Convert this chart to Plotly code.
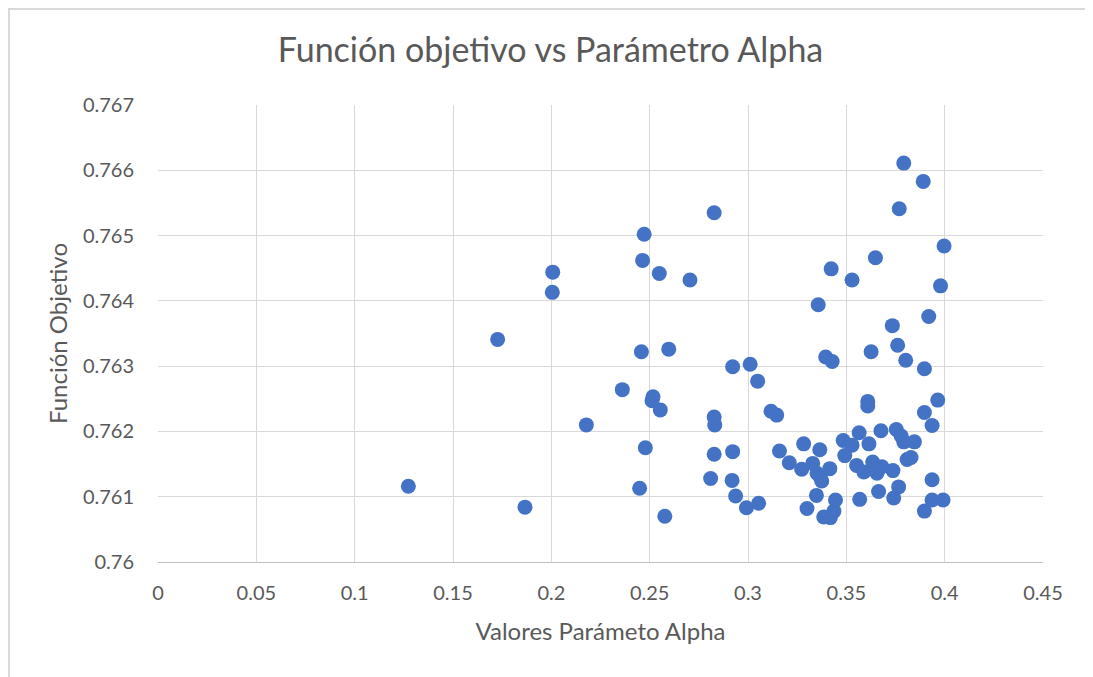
import plotly.graph_objects as go

alpha = [
    0.1273, 0.1727, 0.1866, 0.2005, 0.2007, 0.2178, 0.2361, 0.2449, 0.2458, 0.2464,
    0.2472, 0.2478, 0.2512, 0.2517, 0.2549, 0.2554, 0.2577, 0.2597, 0.2705, 0.2810,
    0.2828, 0.2828, 0.2831, 0.2828, 0.2919, 0.2922, 0.2922, 0.2937, 0.2992, 0.3011,
    0.3049, 0.3054, 0.3117, 0.3146, 0.3160, 0.3210, 0.3273, 0.3283, 0.3300, 0.3329,
    0.3348, 0.3351, 0.3357, 0.3365, 0.3368, 0.3375, 0.3385, 0.3395, 0.3416, 0.3419,
    0.3423, 0.3428, 0.3437, 0.3445, 0.3484, 0.3492, 0.3529, 0.3529, 0.3552, 0.3565,
    0.3568, 0.3589, 0.3609, 0.3609, 0.3615, 0.3626, 0.3634, 0.3648, 0.3656, 0.3664,
    0.3676, 0.3681, 0.3734, 0.3737, 0.3741, 0.3754, 0.3761, 0.3766, 0.3769, 0.3779,
    0.3792, 0.3792, 0.3802, 0.3809, 0.3829, 0.3846, 0.3891, 0.3897, 0.3897, 0.3897,
    0.3919, 0.3936, 0.3936, 0.3936, 0.3965, 0.3979, 0.3992, 0.3997,
]

objetivo = [
    0.76116, 0.76341, 0.76084, 0.76413, 0.76444, 0.76210, 0.76264, 0.76113, 0.76322, 0.76462,
    0.76502, 0.76175, 0.76247, 0.76253, 0.76442, 0.76233, 0.76070, 0.76326, 0.76432, 0.76128,
    0.76535, 0.76222, 0.76210, 0.76165, 0.76125, 0.76299, 0.76169, 0.76101, 0.76083, 0.76303,
    0.76277, 0.76090, 0.76231, 0.76225, 0.76170, 0.76152, 0.76142, 0.76181, 0.76082, 0.76151,
    0.76102, 0.76136, 0.76394, 0.76172, 0.76130, 0.76124, 0.76069, 0.76314, 0.76143, 0.76068,
    0.76449, 0.76307, 0.76078, 0.76095, 0.76186, 0.76163, 0.76179, 0.76432, 0.76148, 0.76198,
    0.76096, 0.76138, 0.76246, 0.76239, 0.76181, 0.76322, 0.76153, 0.76466, 0.76136, 0.76108,
    0.76201, 0.76146, 0.76362, 0.76140, 0.76098, 0.76203, 0.76332, 0.76115, 0.76541, 0.76193,
    0.76611, 0.76184, 0.76309, 0.76157, 0.76160, 0.76184, 0.76583, 0.76296, 0.76229, 0.76078,
    0.76376, 0.76209, 0.76126, 0.76095, 0.76248, 0.76423, 0.76095, 0.76484,
]

x_ticks = [0, 0.05, 0.1, 0.15, 0.2, 0.25, 0.3, 0.35, 0.4, 0.45]
y_ticks = [0.76, 0.761, 0.762, 0.763, 0.764, 0.765, 0.766, 0.767]

font_family = "Lato, Open Sans, sans-serif"
text_color = "#595959"
grid_color = "#D9D9D9"

# the page body adds an 8px offset, so the figure is sized to fit inside it
W, H = 1085, 669
L, R, T, B = 150, 50, 97, 115
pw = W - L - R
ph = H - T - B

fig = go.Figure(
    go.Scatter(
        x=alpha,
        y=objetivo,
        mode="markers",
        marker=dict(size=15, color="#4472C4", line=dict(width=0)),
        showlegend=False
    )
)

fig.update_layout(
    width=W,
    height=H,
    margin=dict(l=L, r=R, t=T, b=B),
    plot_bgcolor="white",
    paper_bgcolor="white",
    font=dict(family=font_family, color=text_color, size=20),
    title=dict(
        text="Función objetivo vs Parámetro Alpha",
        x=0.5,
        xanchor="center",
        xref="container",
        y=1 - 42 / H,
        yanchor="middle",
        font=dict(size=34, color=text_color)
    )
)

fig.update_xaxes(
    range=[0, 0.45],
    tickvals=x_ticks,
    ticktext=[str(v) for v in x_ticks],
    showgrid=True,
    gridcolor=grid_color,
    gridwidth=1,
    zeroline=False,
    showline=True,
    linecolor="#BFBFBF",
    linewidth=1,
    ticks="",
    ticklabelstandoff=13,
    title=dict(text="Valores Parámeto Alpha", font=dict(size=24), standoff=20)
)

fig.update_yaxes(
    range=[0.76, 0.767],
    tickvals=y_ticks,
    ticktext=[str(v) for v in y_ticks],
    showgrid=True,
    gridcolor=grid_color,
    gridwidth=1,
    zeroline=False,
    showline=False,
    ticks="",
    ticklabelstandoff=23,
    title=dict(text="Función Objetivo", font=dict(size=24), standoff=8)
)

# light frame around the whole chart, like the spreadsheet chart border
fig.add_shape(
    type="rect",
    xref="paper",
    yref="paper",
    x0=-(L - 1) / pw,
    x1=1 + (R - 1) / pw,
    y0=-(B + 20) / ph,
    y1=1 + (T - 1) / ph,
    line=dict(color="#D9D9D9", width=2)
)

fig.write_html("out.html")
